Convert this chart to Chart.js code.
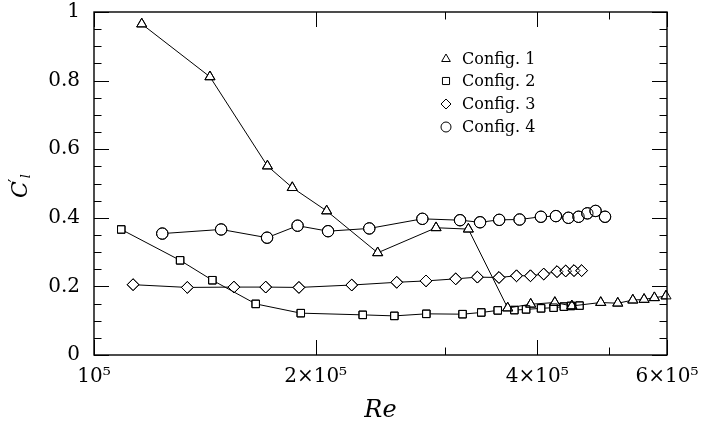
<!DOCTYPE html>
<html><head><meta charset="utf-8">
<script src="https://cdn.jsdelivr.net/npm/chart.js@4"></script>
<style>html,body{margin:0;padding:0;background:#fff}canvas{display:block}</style>
</head><body>
<canvas id="c" width="702" height="423"></canvas>
<script>
// ---- data ----
const config1Re = [1.161e5, 1.437e5, 1.720e5, 1.859e5, 2.070e5, 2.428e5, 2.914e5, 3.224e5, 3.646e5, 3.918e5, 4.225e5, 4.456e5, 4.877e5, 5.144e5, 5.392e5, 5.585e5, 5.768e5, 5.982e5];
const config1Cl = [0.965, 0.811, 0.551, 0.488, 0.420, 0.298, 0.371, 0.367, 0.137, 0.148, 0.153, 0.143, 0.153, 0.151, 0.160, 0.162, 0.167, 0.172];
const config2Re = [1.089e5, 1.309e5, 1.448e5, 1.658e5, 1.909e5, 2.317e5, 2.558e5, 2.827e5, 3.166e5, 3.357e5, 3.534e5, 3.723e5, 3.862e5, 4.047e5, 4.208e5, 4.346e5, 4.443e5, 4.564e5];
const config2Cl = [0.366, 0.276, 0.218, 0.149, 0.122, 0.117, 0.114, 0.120, 0.119, 0.124, 0.130, 0.131, 0.133, 0.136, 0.138, 0.141, 0.143, 0.144];
const config3Re = [1.130e5, 1.339e5, 1.549e5, 1.711e5, 1.898e5, 2.239e5, 2.577e5, 2.824e5, 3.099e5, 3.316e5, 3.548e5, 3.748e5, 3.915e5, 4.081e5, 4.254e5, 4.371e5, 4.486e5, 4.594e5];
const config3Cl = [0.205, 0.197, 0.198, 0.198, 0.197, 0.204, 0.212, 0.216, 0.222, 0.227, 0.226, 0.231, 0.231, 0.236, 0.243, 0.245, 0.246, 0.246];
const config4Re = [1.238e5, 1.488e5, 1.718e5, 1.890e5, 2.079e5, 2.365e5, 2.792e5, 3.141e5, 3.344e5, 3.550e5, 3.784e5, 4.045e5, 4.239e5, 4.408e5, 4.550e5, 4.677e5, 4.799e5, 4.943e5];
const config4Cl = [0.354, 0.366, 0.342, 0.377, 0.361, 0.369, 0.397, 0.393, 0.387, 0.394, 0.395, 0.403, 0.405, 0.400, 0.403, 0.413, 0.420, 0.403];

const seriesLabels = ['Config. 1', 'Config. 2', 'Config. 3', 'Config. 4'];

const xTickValues = [1e5, 2e5, 4e5, 6e5];
const xTickLabels = ['10\u2075', '2\u00d710\u2075', '4\u00d710\u2075', '6\u00d710\u2075'];
const xMinorTicks = [3e5, 5e5];
const yTickValues = [0, 0.2, 0.4, 0.6, 0.8, 1];
const yTickLabels = ['0', '0.2', '0.4', '0.6', '0.8', '1'];
const yMinorTicks = [0.05, 0.1, 0.15, 0.25, 0.3, 0.35, 0.45, 0.5, 0.55, 0.65, 0.7, 0.75, 0.85, 0.9, 0.95];

// ---- styles ----
const SERIF = "'DejaVu Serif', serif";
const styles = [
  {pointStyle: 'triangle', radius: 5.8},
  {pointStyle: 'rect', radius: 5.3},
  {pointStyle: 'rectRot', radius: 5.9},
  {pointStyle: 'circle', radius: 5.7}
];
const xs = [config1Re, config2Re, config3Re, config4Re];
const ys = [config1Cl, config2Cl, config3Cl, config4Cl];

const datasets = seriesLabels.map((label, i) => ({
  label,
  data: xs[i].map((x, j) => ({x, y: ys[i][j]})),
  borderColor: '#000',
  borderWidth: 1,
  backgroundColor: '#fff',
  pointStyle: styles[i].pointStyle,
  pointRadius: styles[i].radius,
  pointBorderWidth: 1,
  pointBorderColor: '#000',
  pointBackgroundColor: '#fff',
  tension: 0,
  fill: false
}));

const outline = (ctx, style, r, x, y) => {
  ctx.save();
  ctx.fillStyle = 'rgba(0,0,0,0)';
  ctx.strokeStyle = '#000';
  ctx.lineWidth = 1;
  Chart.helpers.drawPoint(ctx, {pointStyle: style, radius: r, rotation: 0, borderWidth: 1}, x, y);
  ctx.restore();
};

const framePlugin = {
  id: 'frame',
  afterDatasetsDraw(chart) {
    const ctx = chart.ctx;
    chart.data.datasets.forEach((ds, i) => {
      chart.getDatasetMeta(i).data.forEach(pt => outline(ctx, styles[i].pointStyle, styles[i].radius, pt.x, pt.y));
    });
  },
  afterDraw(chart) {
    const {ctx, chartArea: a, scales: {x, y}} = chart;
    ctx.save();
    ctx.strokeStyle = '#000';
    ctx.lineWidth = 1;
    const line = (x1, y1, x2, y2) => { ctx.beginPath(); ctx.moveTo(x1, y1); ctx.lineTo(x2, y2); ctx.stroke(); };
    const MAJ = 15, MIN = 7.5;
    yTickValues.concat(yMinorTicks).forEach(v => {
      const len = yTickValues.includes(v) ? MAJ : MIN;
      const py = Math.round(y.getPixelForValue(v)) + 0.5;
      line(a.left, py, a.left + len, py);
      line(a.right, py, a.right - len, py);
    });
    xTickValues.concat(xMinorTicks).forEach(v => {
      const len = xTickValues.includes(v) ? MAJ : MIN;
      const px = Math.round(x.getPixelForValue(v)) + 0.5;
      line(px, a.bottom, px, a.bottom - len);
      line(px, a.top, px, a.top + len);
    });
    ctx.lineWidth = 1.4;
    ctx.strokeRect(a.left, a.top, a.right - a.left, a.bottom - a.top);

    // legend
    const lx = 446, rows = [59, 81, 104, 127];
    seriesLabels.forEach((lab, i) => {
      outline(ctx, styles[i].pointStyle, 5, lx, rows[i]);
      ctx.fillStyle = '#000';
      ctx.font = '16px ' + SERIF;
      ctx.textBaseline = 'middle';
      ctx.textAlign = 'left';
      ctx.fillText(lab, 462, rows[i] + 1);
    });

    // y-axis title C'_l (rotated)
    ctx.translate(20, 183);
    ctx.rotate(-Math.PI / 2);
    ctx.fillStyle = '#000';
    ctx.textAlign = 'left';
    ctx.textBaseline = 'alphabetic';
    ctx.font = 'italic 22px ' + SERIF;
    const cw = ctx.measureText('C').width;
    const x0 = -15;
    ctx.fillText('C', x0, 7);
    ctx.font = '16px ' + SERIF;
    ctx.fillText('\u2032', x0 + cw - 1, 0);
    ctx.font = 'italic 13px ' + SERIF;
    ctx.fillText('l', x0 + cw + 3, 10);
    ctx.restore();
  }
};

new Chart(document.getElementById('c'), {
  type: 'line',
  data: {datasets},
  options: {
    responsive: false,
    animation: false,
    events: [],
    layout: {padding: {top: 12, right: 35, left: 0, bottom: 0}},
    plugins: {legend: {display: false}, tooltip: {enabled: false}},
    scales: {
      x: {
        type: 'logarithmic',
        min: 1e5, max: 6e5,
        grid: {display: false, drawTicks: false},
        border: {display: false},
        afterBuildTicks: s => { s.ticks = xTickValues.map(v => ({value: v, major: false})); },
        afterFit: s => { s.height = 68; s.paddingLeft = 0; s.paddingRight = 0; },
        ticks: {
          autoSkip: false, maxRotation: 0, minRotation: 0,
          padding: 10,
          color: '#000',
          font: {family: SERIF, size: 20},
          callback: (v, i) => xTickLabels[i]
        },
        title: {display: true, text: 'Re', color: '#000', font: {family: SERIF, size: 24, style: 'italic'}, padding: {top: 0, bottom: -2}}
      },
      y: {
        min: 0, max: 1,
        grid: {display: false, drawTicks: false},
        border: {display: false},
        afterBuildTicks: s => { s.ticks = yTickValues.map(v => ({value: v})); },
        afterFit: s => { s.width = 94; s.paddingTop = 0; s.paddingBottom = 0; },
        ticks: {
          padding: 14,
          color: '#000',
          font: {family: SERIF, size: 20},
          callback: (v, i) => yTickLabels[i]
        }
      }
    }
  },
  plugins: [framePlugin]
});
</script>
</body></html>
